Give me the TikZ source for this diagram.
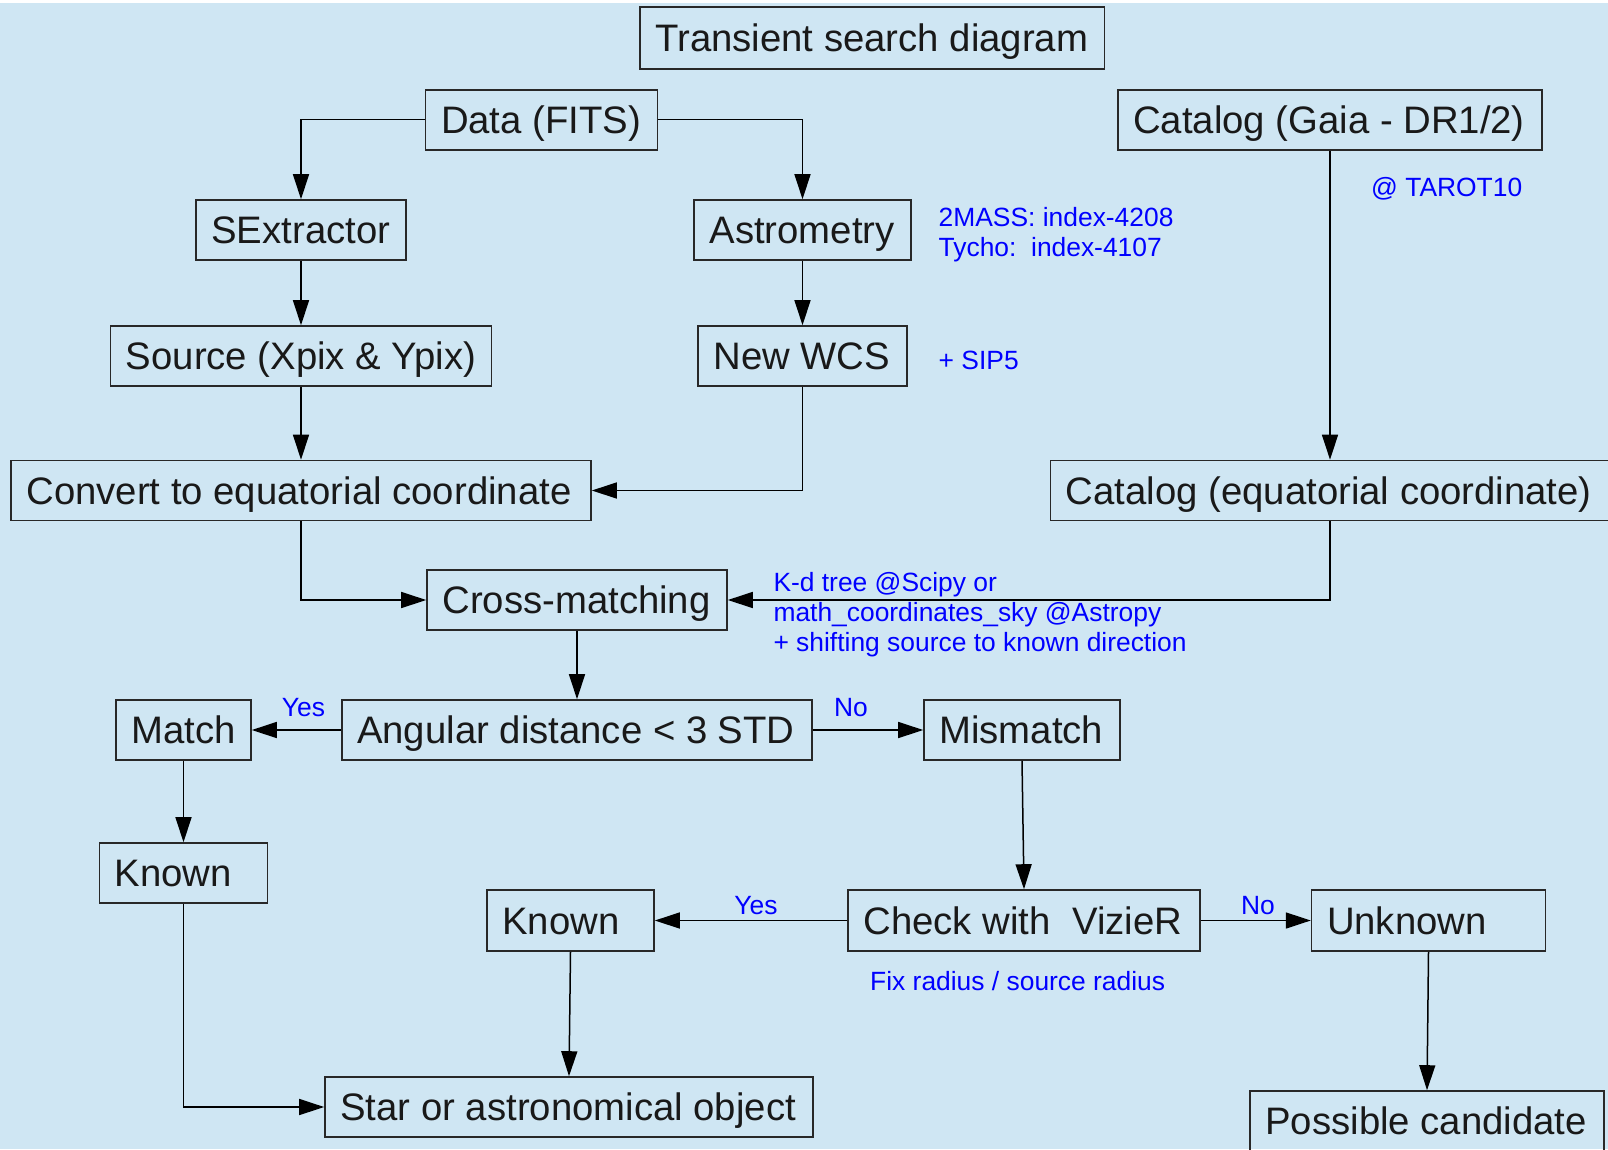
\documentclass[tikz,border=0pt]{standalone}
\usepackage{fontspec}
\setmainfont{Liberation Sans}
\usetikzlibrary{arrows.meta}
\definecolor{bgc}{RGB}{207,230,243}
\definecolor{annot}{RGB}{0,0,255}
\definecolor{edgec}{RGB}{40,40,40}
\begin{document}
\begin{tikzpicture}[x=1pt,y=-1pt,
  box/.style={draw=edgec, line width=1.6pt, inner xsep=0pt, inner ysep=0pt, minimum height=60pt,
    minimum width=#1, text width=#1,
    execute at begin node={\spaceskip=0pt\xspaceskip=0pt\hbox\bgroup\kern15.4pt},
    execute at end node={\egroup},
    font=\fontsize{38.3}{40}\selectfont, text height=27.4pt, text depth=0pt, text=black!90},
  note/.style={text=annot, inner sep=0pt, anchor=base west, font=\fontsize{26.4}{30}\selectfont},
  yn/.style={text=annot, inner sep=0pt, anchor=base, font=\fontsize{26.4}{30}\selectfont},
  conn/.style={draw=black, line width=1.5pt, -{Triangle[length=25pt,width=16pt]}},
]
\useasboundingbox (0,0) rectangle (1608,1149);
\fill[white] (0,0) rectangle (1608,3.3);
\fill[bgc] (0,3.3) rectangle (1608,1149);

% boxes
\node[box=464.5pt, minimum height=62.3pt] (title) at (872.25,37.85) {Transient search diagram};
\node[box=231.8pt] (data) at (541.5,119.7) {Data (FITS)};
\node[box=424.5pt] (catg) at (1330,119.7) {Catalog (Gaia - DR1/2)};
\node[box=210pt] (sext) at (301,230) {SExtractor};
\node[box=216.8pt] (astr) at (802.5,230) {Astrometry};
\node[box=381pt] (src) at (301,356) {Source (Xpix \& Ypix)};
\node[box=209pt] (wcs) at (802.5,356) {New WCS};
\node[box=580pt] (conv) at (301,490.5) {Convert to equatorial coordinate};
\node[box=559pt] (cate) at (1330,490.5) {Catalog (equatorial coordinate)};
\node[box=300pt] (cross) at (577,600) {Cross-matching};
\node[box=470.5pt] (ang) at (577,730) {Angular distance < 3 STD};
\node[box=135pt] (match) at (183.5,730) {Match};
\node[box=196pt] (mism) at (1022,730) {Mismatch};
\node[box=168.2pt] (known1) at (183.5,873) {Known};
\node[box=167pt, minimum height=61pt] (known2) at (570.5,920.5) {Known};
\node[box=351.7pt, minimum height=61pt] (check) at (1024,920.5) {Check with\ \ VizieR};
\node[box=233.8pt, minimum height=61pt] (unk) at (1428.5,920.5) {Unknown};
\node[box=488pt] (star) at (569,1107) {Star or astronomical object};
\node[box=354pt] (poss) at (1427,1121) {Possible candidate};

% connectors
\draw[conn] (data.west) -| (sext.north);
\draw[conn] (data.east) -| (astr.north);
\draw[conn] (sext.south) -- (src.north);
\draw[conn] (astr.south) -- (wcs.north);
\draw[conn] (src.south) -- (conv.north);
\draw[conn] (wcs.south) |- (conv.east);
\draw[conn] (catg.south) -- (cate.north);
\draw[conn] (conv.south) |- (cross.west);
\draw[conn] (cate.south) |- (cross.east);
\draw[conn] (cross.south) -- (ang.north);
\draw[conn] (ang.west) -- (match.east);
\draw[conn] (ang.east) -- (mism.west);
\draw[conn] (match.south) -- (known1.north);
\draw[conn] (known1.south) |- (star.west);
\draw[conn] (mism.south) -- (check.north);
\draw[conn] (check.west) -- (known2.east);
\draw[conn] (check.east) -- (unk.west);
\draw[conn] (known2.south) -- (star.north);
\draw[conn] (unk.south) -- (poss.north);

% annotations
\node[note] (tarot) at (1371,196.7) {@ TAROT10};
\node[note] (idx1) at (938.5,226.7) {2MASS: index-4208};
\node[note] (idx2) at (938.5,256) {Tycho:\ \ index-4107};
\node[note] (sip) at (938.5,369) {+ SIP5};
\node[note] (kd1) at (773.3,591.7) {K-d tree @Scipy or};
\node[note] (kd2) at (773.3,621.7) {math\_coordinates\_sky @Astropy};
\node[note] (kd3) at (773.3,651.7) {+ shifting source to known direction};
\node[note] (fix) at (870,990) {Fix radius / source radius};
\node[yn] (yes1) at (303.5,716) {Yes};
\node[yn] (no1) at (851,716) {No};
\node[yn] (yes2) at (756,914) {Yes};
\node[yn] (no2) at (1258,914) {No};
\end{tikzpicture}
\end{document}
